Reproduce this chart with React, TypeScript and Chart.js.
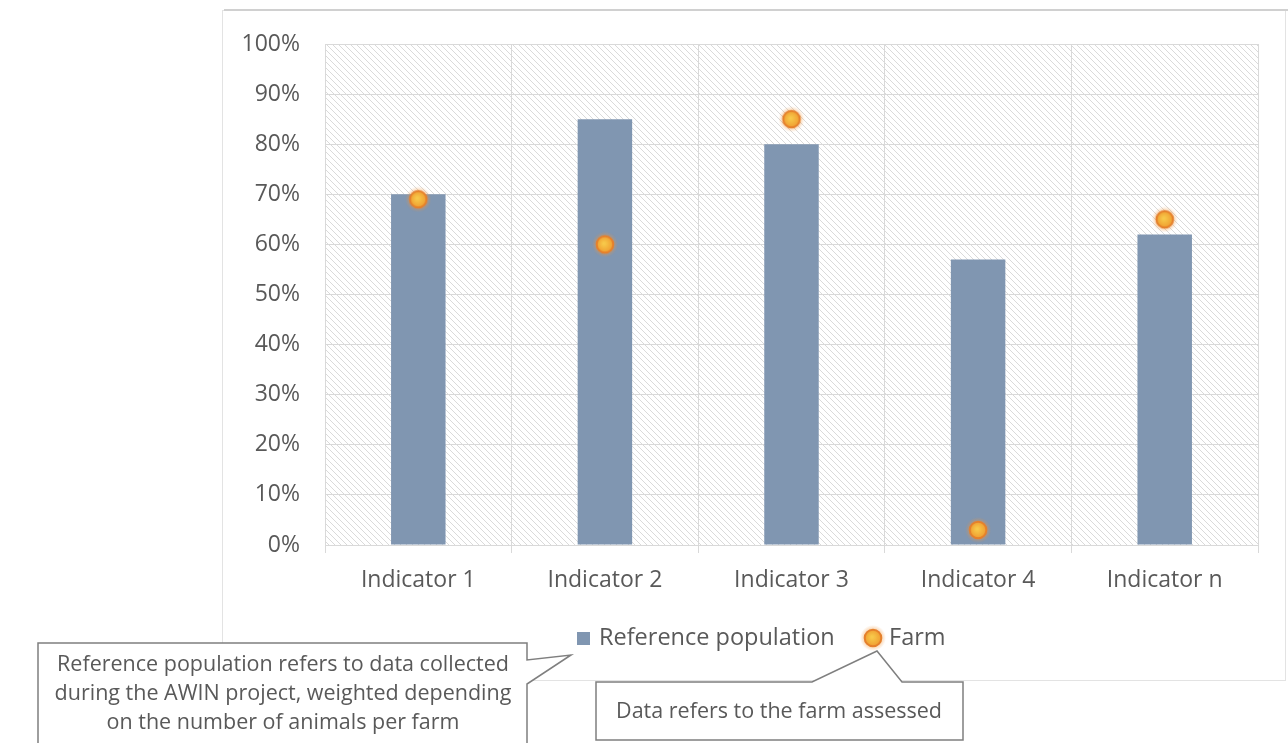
import React, { useEffect, useRef } from "react";
import { Chart, registerables } from "chart.js";

Chart.register(...registerables);

const categories = ["Indicator 1", "Indicator 2", "Indicator 3", "Indicator 4", "Indicator n"];
const referencePopulation = [70, 85, 80, 57, 62];
const farm = [69, 60, 85, 3, 65];
const yTicks = [0, 10, 20, 30, 40, 50, 60, 70, 80, 90, 100];
const seriesLabels = ["Reference population", "Farm"];
const calloutLeftLines = [
  "Reference population refers to data collected",
  "during the AWIN project, weighted depending",
  "on the number of animals per farm",
];
const calloutRightLines = ["Data refers to the farm assessed"];

const FONT = "'Open Sans', 'Liberation Sans', sans-serif";
const TEXT = "#595959";
const BAR = "#8096b1";
const GRID = "#d9d9d9";

function makeHatch(): CanvasPattern | string {
  const c = document.createElement("canvas");
  c.width = 6;
  c.height = 6;
  const g = c.getContext("2d");
  if (!g) return "#fff";
  g.fillStyle = "#ffffff";
  g.fillRect(0, 0, 6, 6);
  g.strokeStyle = "#dadada";
  g.lineWidth = 1;
  g.beginPath();
  g.moveTo(-1, -1);
  g.lineTo(7, 7);
  g.moveTo(-1, 5);
  g.lineTo(1, 7);
  g.moveTo(5, -1);
  g.lineTo(7, 1);
  g.stroke();
  const p = g.createPattern(c, "repeat");
  return p || "#fff";
}

function makeDot(): HTMLCanvasElement {
  const c = document.createElement("canvas");
  c.width = 26;
  c.height = 26;
  const g = c.getContext("2d")!;
  const glow = g.createRadialGradient(13, 13, 8, 13, 13, 13);
  glow.addColorStop(0, "rgba(240,150,60,0.45)");
  glow.addColorStop(1, "rgba(240,150,60,0)");
  g.fillStyle = glow;
  g.fillRect(0, 0, 26, 26);
  const grad = g.createRadialGradient(12, 12, 1, 13, 13, 9);
  grad.addColorStop(0, "#f7c84a");
  grad.addColorStop(1, "#ef9a2e");
  g.beginPath();
  g.arc(13, 13, 8.3, 0, Math.PI * 2);
  g.fillStyle = grad;
  g.fill();
  g.lineWidth = 2;
  g.strokeStyle = "#e5802c";
  g.stroke();
  return c;
}

export default function App() {
  const ref = useRef<HTMLCanvasElement | null>(null);

  useEffect(() => {
    if (!ref.current) return;
    const hatch = makeHatch();
    const dot = makeDot();

    const decor = {
      id: "decor",
      beforeDraw(chart: any) {
        const { ctx, chartArea } = chart;
        ctx.save();
        ctx.fillStyle = "#ffffff";
        ctx.fillRect(0, 0, chart.width, chart.height);
        // chart frame
        ctx.strokeStyle = "#e3e3e3";
        ctx.lineWidth = 1;
        ctx.strokeRect(222.5, 10.5, 1063, 670);
        ctx.strokeStyle = "#d0d0d0";
        ctx.lineWidth = 2;
        ctx.beginPath();
        ctx.moveTo(224, 10);
        ctx.lineTo(1288, 10);
        ctx.stroke();
        ctx.fillStyle = hatch as any;
        ctx.fillRect(chartArea.left, chartArea.top, chartArea.right - chartArea.left, chartArea.bottom - chartArea.top);
        ctx.restore();
      },
      afterDraw(chart: any) {
        const { ctx } = chart;
        ctx.save();
        // legend
        ctx.font = `23.5px ${FONT}`;
        ctx.textBaseline = "middle";
        ctx.textAlign = "left";
        ctx.fillStyle = BAR;
        ctx.fillRect(577, 632, 13, 13);
        ctx.fillStyle = TEXT;
        ctx.fillText(seriesLabels[0], 599, 638);
        ctx.drawImage(dot, 860, 625, 26, 26);
        ctx.fillStyle = TEXT;
        ctx.fillText(seriesLabels[1], 889, 638);

        // callout left
        ctx.strokeStyle = "#7f7f7f";
        ctx.lineWidth = 1.5;
        ctx.fillStyle = "#ffffff";
        ctx.beginPath();
        ctx.moveTo(38, 760);
        ctx.lineTo(38, 643);
        ctx.lineTo(527, 643);
        ctx.lineTo(527, 660);
        ctx.lineTo(571, 655);
        ctx.lineTo(527, 684);
        ctx.lineTo(527, 760);
        ctx.closePath();
        ctx.fill();
        ctx.stroke();
        ctx.fillStyle = TEXT;
        ctx.textAlign = "center";
        ctx.font = `21.5px ${FONT}`;
        calloutLeftLines.forEach((t, i) => ctx.fillText(t, 283, 665 + i * 29));

        // callout right
        ctx.fillStyle = "#ffffff";
        ctx.beginPath();
        ctx.moveTo(596, 740);
        ctx.lineTo(596, 682);
        ctx.lineTo(812, 682);
        ctx.lineTo(877, 651);
        ctx.lineTo(902, 682);
        ctx.lineTo(963, 682);
        ctx.lineTo(963, 740);
        ctx.closePath();
        ctx.fill();
        ctx.stroke();
        ctx.fillStyle = TEXT;
        calloutRightLines.forEach((t, i) => ctx.fillText(t, 779, 712 + i * 29));
        ctx.restore();
      },
    };

    const chart = new Chart(ref.current, {
      data: {
        labels: categories,
        datasets: [
          {
            type: "line" as const,
            label: seriesLabels[1],
            data: farm,
            showLine: false,
            pointStyle: dot as any,
            pointRadius: 13,
            order: 0,
          },
          {
            type: "bar" as const,
            label: seriesLabels[0],
            data: referencePopulation,
            backgroundColor: BAR,
            categoryPercentage: 1,
            barPercentage: 0.292,
            order: 1,
          },
        ],
      },
      options: {
        animation: false,
        responsive: false,
        layout: { padding: { left: 0, top: 44, right: 30, bottom: 0 } },
        plugins: { legend: { display: false }, tooltip: { enabled: false } },
        scales: {
          x: {
            offset: true,
            grid: { color: GRID, lineWidth: 1, tickLength: 8, offset: true },
            border: { color: GRID },
            ticks: { color: TEXT, font: { family: FONT, size: 23 }, padding: 14 },
            afterFit: (s: any) => {
              s.height = 198;
            },
          },
          y: {
            min: 0,
            max: 100,
            afterBuildTicks: (s: any) => {
              s.ticks = yTicks.map((v) => ({ value: v }));
            },
            grid: { color: GRID, lineWidth: 1, drawTicks: false, tickLength: 0 },
            border: { display: false },
            ticks: {
              color: TEXT,
              font: { family: FONT, size: 23 },
              padding: 25,
              callback: (v: any) => `${v}%`,
            },
            afterFit: (s: any) => {
              s.width = 325;
            },
          },
        },
      },
      plugins: [decor],
    } as any);
    return () => chart.destroy();
  }, []);

  return (
    <div style={{ position: "fixed", left: 0, top: 0, width: 1288, height: 743, background: "#fff" }}>
      <canvas ref={ref} width={1288} height={743} style={{ width: 1288, height: 743, display: "block" }} />
    </div>
  );
}
